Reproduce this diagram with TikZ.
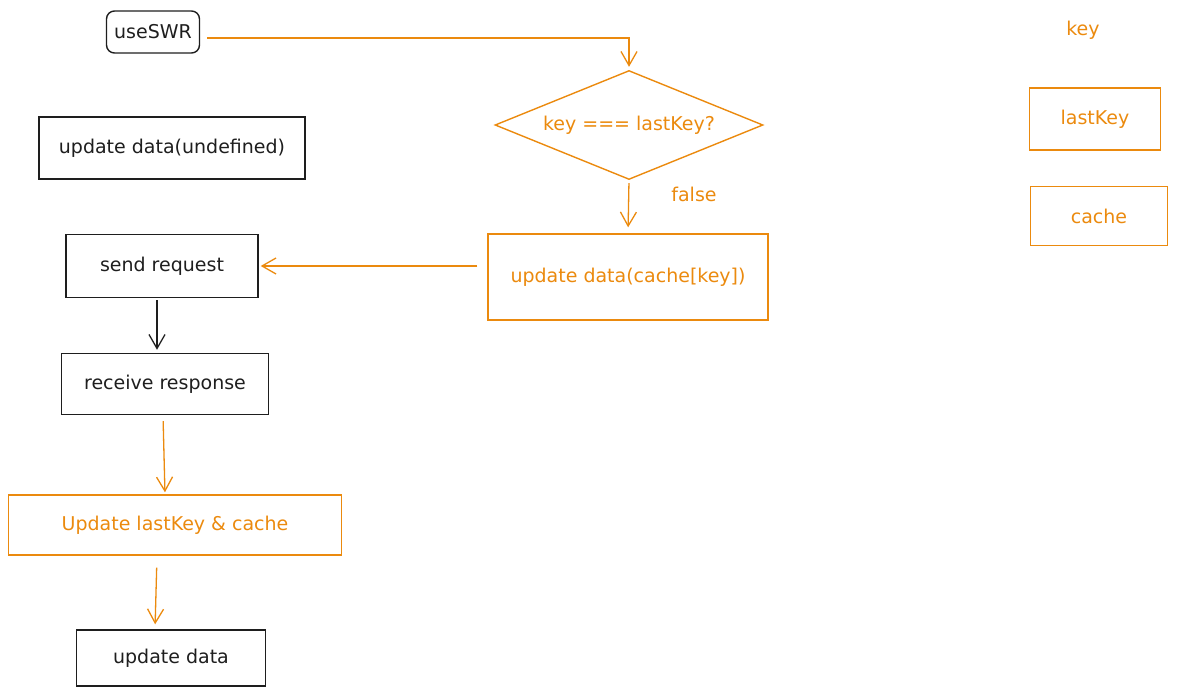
\documentclass[tikz,border=0pt]{standalone}
\usepackage{fontspec}
\setmainfont{DejaVu Sans}
\usepackage{xcolor}
\usepackage{tikz}
\usetikzlibrary{arrows.meta,shapes.geometric}
\definecolor{ink}{HTML}{1E1E1E}
\definecolor{accent}{HTML}{EB8A0E}
\tikzset{
  box/.style={draw=ink, line width=1.4pt, text=ink, inner sep=0pt, font=\fontsize{19}{22}\selectfont},
  hot/.style={box, draw=accent, text=accent},
  flow/.style={draw=ink, line width=1.3pt, -{Straight Barb[length=14pt,width=16pt,line width=1.3pt]}},
  hotflow/.style={flow, draw=accent},
  lab/.style={text=accent, font=\fontsize{19}{22}\selectfont},
}

\begin{document}
\begin{tikzpicture}[x=1pt,y=-1pt]
  \useasboundingbox (0,0) rectangle (1177,696);

  % left column
  \node[box, rounded corners=8pt, minimum width=93pt, minimum height=42pt] (useswr) at (153,32) {useSWR};
  \node[box, minimum width=266pt, minimum height=62pt] (undef) at (172,148) {update data(undefined)};
  \node[box, minimum width=192pt, minimum height=63pt] (send) at (162,266) {send request};
  \node[box, minimum width=207pt, minimum height=61pt] (recv) at (165,384) {receive response};
  \node[hot, minimum width=333pt, minimum height=60pt] (store) at (175,525) {Update lastKey \& cache};
  \node[box, minimum width=189pt, minimum height=56pt] (final) at (171,658) {update data};

  % middle column
  \node[hot, diamond, aspect=2.5, minimum width=268pt, minimum height=109pt] (check) at (629,125) {key === lastKey?};
  \node[hot, minimum width=280pt, minimum height=86pt] (cached) at (628,277) {update data(cache[key])};
  \node[lab] (false) at (694,194) {false};

  % legend
  \node[lab] (key) at (1083,30) {key};
  \node[hot, minimum width=131pt, minimum height=62pt] (lastkey) at (1095,119) {lastKey};
  \node[hot, minimum width=137pt, minimum height=59pt] (cache) at (1099,216) {cache};

  % connectors
  \draw[hotflow, shorten >=3pt] ([xshift=7pt,yshift=-6pt]useswr.east) -| (check.north);
  \draw[hotflow, shorten <=3pt, shorten >=6pt] (check.south) -- (cached.north);
  \draw[hotflow, shorten <=10pt, shorten >=2pt] ([yshift=11pt]cached.west) -- (send.east);
  \draw[flow, shorten <=2pt, shorten >=3pt] ([xshift=-5pt]send.south) -- ([xshift=-8pt]recv.north);
  \draw[hotflow, shorten <=6pt, shorten >=2pt] ([xshift=-2pt]recv.south) -- ([xshift=-10pt]store.north);
  \draw[hotflow, shorten <=12pt, shorten >=5pt] ([xshift=-18pt]store.south) -- ([xshift=-16pt]final.north);
\end{tikzpicture}
\end{document}
